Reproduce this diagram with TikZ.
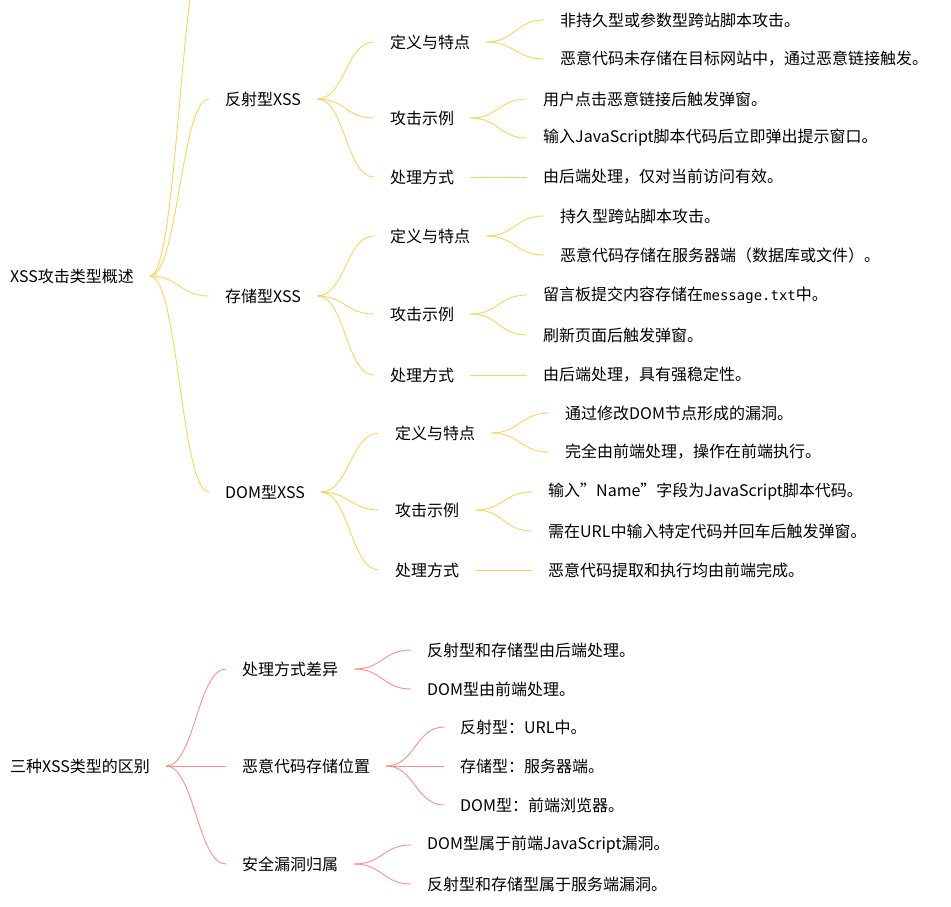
\documentclass[tikz,border=0pt]{standalone}
\usepackage{fontspec}
\setmainfont{Noto Sans CJK SC}
\setmonofont{DejaVu Sans Mono}
\definecolor{yl}{HTML}{FFD25E}
\definecolor{rd}{HTML}{FF8F86}
\newcommand\cnx[3]{\draw[#3] ([xshift=16pt]#1.east) .. controls +(28,0) and +(-28,0) .. ([xshift=-16pt]#2.west);}
\begin{document}
\begin{tikzpicture}[x=1pt,y=-1pt,
  every node/.style={anchor=west,inner sep=0pt,font=\fontsize{16}{19}\selectfont},
  ly/.style={yl,line width=0.9pt}, lr/.style={rd,line width=0.9pt}]
\useasboundingbox (0,0) rectangle (951,906);
\node (r1) at (10,276) {XSS攻击类型概述};
\coordinate (top) at (225,-70);
\draw[ly] ([xshift=16pt]r1.east) .. controls +(28,0) and +(-28,0) .. ([xshift=-16pt]top);
\node (a) at (225,99) {反射型XSS};
\node (b) at (225,296) {存储型XSS};
\node (c) at (225,492) {DOM型XSS};
\cnx{r1}{a}{ly}\cnx{r1}{b}{ly}\cnx{r1}{c}{ly}
% A
\node (a1) at (390,42) {定义与特点};
\node (a2) at (390,118) {攻击示例};
\node (a3) at (390,177) {处理方式};
\cnx{a}{a1}{ly}\cnx{a}{a2}{ly}\cnx{a}{a3}{ly}
\node (a11) at (560,20) {非持久型或参数型跨站脚本攻击。};
\node (a12) at (560,59) {恶意代码未存储在目标网站中，通过恶意链接触发。};
\node (a21) at (543,99) {用户点击恶意链接后触发弹窗。};
\node (a22) at (543,138) {输入JavaScript脚本代码后立即弹出提示窗口。};
\node (a31) at (543,177) {由后端处理，仅对当前访问有效。};
\cnx{a1}{a11}{ly}\cnx{a1}{a12}{ly}\cnx{a2}{a21}{ly}\cnx{a2}{a22}{ly}\cnx{a3}{a31}{ly}
% B
\node (b1) at (390,236) {定义与特点};
\node (b2) at (390,314) {攻击示例};
\node (b3) at (390,375) {处理方式};
\cnx{b}{b1}{ly}\cnx{b}{b2}{ly}\cnx{b}{b3}{ly}
\node (b11) at (560,216) {持久型跨站脚本攻击。};
\node (b12) at (560,255) {恶意代码存储在服务器端（数据库或文件）。};
\node (b21) at (543,295) {留言板提交内容存储在\texttt{\fontsize{14}{17}\selectfont message.txt}中。};
\node (b22) at (543,335) {刷新页面后触发弹窗。};
\node (b31) at (543,375) {由后端处理，具有强稳定性。};
\cnx{b1}{b11}{ly}\cnx{b1}{b12}{ly}\cnx{b2}{b21}{ly}\cnx{b2}{b22}{ly}\cnx{b3}{b31}{ly}
% C
\node (c1) at (395,433) {定义与特点};
\node (c2) at (395,510) {攻击示例};
\node (c3) at (395,570) {处理方式};
\cnx{c}{c1}{ly}\cnx{c}{c2}{ly}\cnx{c}{c3}{ly}
\node (c11) at (565,413) {通过修改DOM节点形成的漏洞。};
\node (c12) at (565,452) {完全由前端处理，操作在前端执行。};
\node (c21) at (548,492) {输入\symbol{34}Name\symbol{34}字段为JavaScript脚本代码。};
\node (c22) at (548,531) {需在URL中输入特定代码并回车后触发弹窗。};
\node (c31) at (548,570) {恶意代码提取和执行均由前端完成。};
\cnx{c1}{c11}{ly}\cnx{c1}{c12}{ly}\cnx{c2}{c21}{ly}\cnx{c2}{c22}{ly}\cnx{c3}{c31}{ly}
% second tree
\node (r2) at (10,766) {三种XSS类型的区别};
\node (d) at (242,669) {处理方式差异};
\node (e) at (242,766) {恶意代码存储位置};
\node (f) at (242,864) {安全漏洞归属};
\cnx{r2}{d}{lr}\cnx{r2}{e}{lr}\cnx{r2}{f}{lr}
\node (d1) at (427,650) {反射型和存储型由后端处理。};
\node (d2) at (427,689) {DOM型由前端处理。};
\node (e1) at (460,727) {反射型：URL中。};
\node (e2) at (460,766) {存储型：服务器端。};
\node (e3) at (460,805) {DOM型：前端浏览器。};
\node (f1) at (427,845) {DOM型属于前端JavaScript漏洞。};
\node (f2) at (427,884) {反射型和存储型属于服务端漏洞。};
\cnx{d}{d1}{lr}\cnx{d}{d2}{lr}\cnx{e}{e1}{lr}\cnx{e}{e2}{lr}\cnx{e}{e3}{lr}\cnx{f}{f1}{lr}\cnx{f}{f2}{lr}
\end{tikzpicture}
\end{document}
